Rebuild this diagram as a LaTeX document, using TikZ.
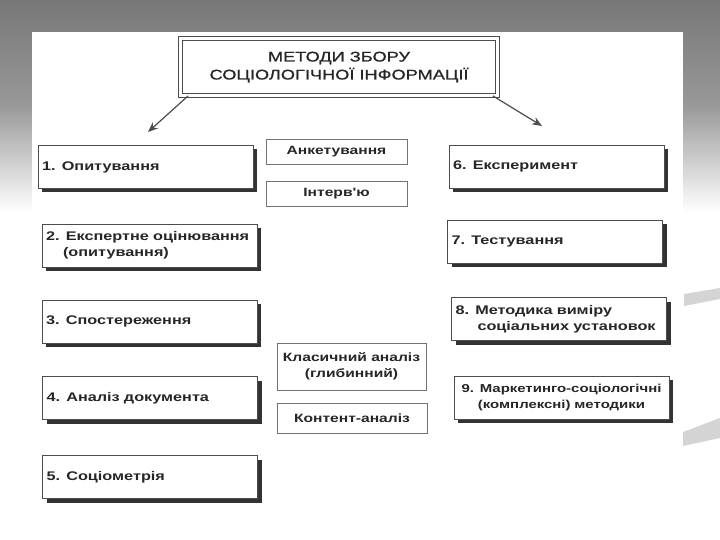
\documentclass[tikz,border=0pt]{standalone}
\usepackage{fontspec}
\setmainfont{Liberation Sans}
\newfontfamily\scanfont[FakeStretch=1.3]{Liberation Sans}
\newfontfamily\titlefont[FakeStretch=1.3, FakeBold=0.8]{Liberation Sans}
\usetikzlibrary{positioning, arrows.meta, shadows}

\begin{document}
\begin{tikzpicture}[x=1pt, y=-1pt,
    every node/.style={rectangle, draw=black!70, fill=white, text=black!85, line width=0.8pt},
    method/.style={minimum width=215pt, minimum height=43pt, inner xsep=4pt, text width=207pt, align=left, font=\scanfont\bfseries\fontsize{12.5}{16}\selectfont, drop shadow={opacity=1, fill=black!80, shadow xshift=4pt, shadow yshift=-4pt}},
    technique/.style={draw=black!55, align=center, inner sep=0pt, font=\scanfont\bfseries\fontsize{12}{16}\selectfont}]
        % Background
        \shade[top color=black!53, bottom color=white, middle color=black!40] (0,0) rectangle (720,212);
        \fill[white] (32,32) rectangle (683,540);
        \fill[black!17] (684,294) -- (720,288) -- (720,299) -- (684,306) -- cycle;
        \fill[black!17] (683,432) -- (720,418) -- (720,438) -- (683,446) -- cycle;
        \useasboundingbox (0,0) rectangle (720,540);

        % Title node
        \node[double=white, double distance=3pt, minimum width=317pt, minimum height=57pt, align=center, font=\titlefont\fontsize{14}{18}\selectfont] (title) at (339,67) {МЕТОДИ ЗБОРУ\\СОЦІОЛОГІЧНОЇ ІНФОРМАЦІЇ};

        % Method nodes
        \node[method] (method1) at (145.5,167) {1. Опитування};
        \node[method] (method2) at (149.5,245.5) {2. Експертне оцінювання\\\hspace*{17pt}(опитування)};
        \node[method] (method3) at (149.5,321.5) {3. Спостереження};
        \node[method] (method4) at (150,398) {4. Аналіз документа};
        \node[method] (method5) at (150,477) {5. Соціометрія};
        \node[method] (method6) at (556.5,166.5) {6. Експеримент};
        \node[method] (method7) at (555,241.5) {7. Тестування};
        \node[method] (method8) at (559,319) {8. Методика виміру\\\hspace*{22pt}соціальних установок};
        \node[method, align=center, inner xsep=1pt, text width=213pt, font=\scanfont\bfseries\fontsize{11.5}{16}\selectfont] (method9) at (561.5,397.5) {9. Маркетинго-соціологічні\\(комплексні) методики};

        % Technique nodes
        \node[technique, minimum width=141pt, minimum height=25pt] (anket) at (336.5,151.5) {Анкетування};
        \node[technique, minimum width=141pt, minimum height=25pt] (interv) at (336.5,193.5) {Інтерв'ю};
        \node[technique, minimum width=149pt, minimum height=47pt] (klasych) at (351.5,366.5) {Класичний аналіз\\(глибинний)};
        \node[technique, minimum width=150pt, minimum height=30pt] (kontent) at (352,418) {Контент-аналіз};

        % Arrows
        \coordinate (leftend) at (148,132);
        \coordinate (rightend) at (542,126);
        \draw[-{Stealth[length=10pt, width=8pt]}, line width=1.2pt, black!70] ([xshift=8pt]title.south west) -- (leftend);
        \draw[-{Stealth[length=10pt, width=8pt]}, line width=1.2pt, black!70] ([xshift=-5pt]title.south east) -- (rightend);
    \end{tikzpicture}
\end{document}
